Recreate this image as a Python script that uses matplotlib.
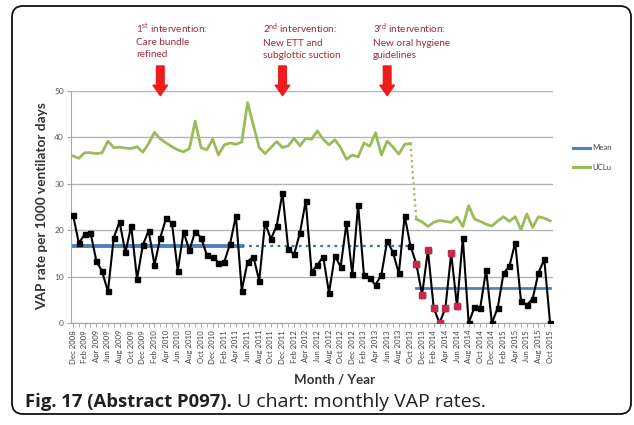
import matplotlib
matplotlib.use('Agg')
import matplotlib.pyplot as plt
from matplotlib.patches import FancyBboxPatch
from matplotlib.lines import Line2D
from matplotlib.transforms import IdentityTransform
import pandas as pd

# ---------------- data ----------------
months = pd.date_range('2008-12-01', '2015-10-01', freq='MS')
month_labels = [d.strftime('%b %Y') for d in months]

vap_rate = [23.3, 17.2, 19.1, 19.5, 13.4, 11.1, 6.8, 18.4, 21.8, 15.2, 20.9, 9.5, 16.8, 19.9, 12.5, 18.4,
            22.6, 21.5, 11.3, 19.6, 15.7, 19.7, 18.4, 14.6, 14.3, 13.0, 13.2, 17.1, 23.1, 7.0, 13.2, 14.3, 9.1,
            21.6, 18.1, 20.9, 28.0, 15.9, 14.8, 19.4, 26.3, 11.0, 12.5, 14.3, 6.5, 14.5, 12.1, 21.5, 10.5, 25.4,
            10.4, 9.6, 8.2, 10.4, 17.7, 15.2, 10.7, 23.1, 16.6, 12.8, 6.1, 15.7, 3.2, 0.0, 3.2, 15.0, 3.6,
            18.3, 0.0, 3.4, 3.3, 11.5, 0.0, 3.3, 10.7, 12.2, 17.3, 4.7, 3.9, 5.2, 10.8, 13.7, 0.0]

ucl_before = [36.0, 35.5, 36.7, 36.7, 36.5, 36.7, 39.2, 37.8, 37.9, 37.7, 37.6, 38.0, 36.8, 38.7, 41.1,
              39.7, 38.8, 38.0, 37.3, 36.9, 37.6, 43.5, 37.8, 37.3, 39.6, 36.2, 38.4, 38.8, 38.5, 39.0,
              47.5, 42.6, 37.8, 36.5, 37.8, 39.1, 37.8, 38.2, 39.8, 38.2, 39.8, 39.6, 41.4, 39.6, 38.4,
              39.5, 37.8, 35.3, 36.2, 35.8, 38.8, 38.1, 41.0, 36.2, 39.2, 37.9, 36.4, 38.5, 38.7]
ucl_after = [22.4, 21.8, 20.8, 21.7, 22.1, 21.9, 21.7, 22.8, 20.8, 25.3, 22.4, 21.9, 21.3, 20.9, 22.0,
             22.9, 21.9, 22.9, 20.1, 23.5, 20.6, 22.9, 22.6, 22.0]

mean_before = 16.5
mean_after = 7.5
mean_solid_end = 29          # index where the baseline mean turns dotted
flagged = [59, 60, 61, 62, 63, 64, 65, 66]   # highlighted (red) months

interv_idx = [15, 36, 54]
interv_text = [r'1$^{\mathrm{st}}$ intervention:' + '\nCare bundle\nrefined',
               r'2$^{\mathrm{nd}}$ intervention:' + '\nNew ETT and\nsubglottic suction',
               r'3$^{\mathrm{rd}}$ intervention:' + '\nNew oral hygiene\nguidelines']
interv_text_x = [136, 263, 373]   # pixel left edge of text

# ---------------- style ----------------
plt.rcParams['font.family'] = ['Lato', 'DejaVu Sans']
plt.rcParams['mathtext.fontset'] = 'custom'
plt.rcParams['mathtext.rm'] = 'Lato'
plt.rcParams['mathtext.it'] = 'Lato:italic'
plt.rcParams['mathtext.bf'] = 'Lato:bold'

W, H = 634, 425
fig = plt.figure(figsize=(W / 100, H / 100), dpi=100)
fig.patch.set_facecolor('white')

ax = fig.add_axes([71 / W, 1 - 323 / H, (553 - 71) / W, (323 - 91) / H])

n = len(vap_rate)
x = list(range(n))
green = '#9bbb59'
blue = '#4f81bd'

ax.set_ylim(0, 50)
ax.set_xlim(-0.35, n - 0.5)
ax.set_yticks([0, 10, 20, 30, 40, 50])
ax.yaxis.grid(True, color='#b5b5b5', lw=1.0)
ax.set_axisbelow(True)
for s in ['top', 'right']:
    ax.spines[s].set_visible(False)
ax.spines['left'].set_color('#a6a6a6')
ax.spines['bottom'].set_color('#a6a6a6')

# UCL
ax.plot(range(len(ucl_before)), ucl_before, color=green, lw=2.0, zorder=3)
ax.plot(range(len(ucl_before), n), ucl_after, color=green, lw=2.0, zorder=3)
ax.plot([len(ucl_before) - 1, len(ucl_before)], [ucl_before[-1], ucl_after[0]],
        color=green, lw=1.6, ls=(0, (1, 1.5)), zorder=3)

# means
ax.plot([0, mean_solid_end], [mean_before, mean_before], color=blue, lw=2.8, zorder=2)
ax.plot([mean_solid_end, len(ucl_before) - 1], [mean_before, mean_before], color='#3e6ea6',
        lw=1.6, ls=(0, (1.2, 2.0)), zorder=2)
ax.plot([len(ucl_before), n - 1], [mean_after, mean_after], color=blue, lw=2.0, zorder=2)

# data
ax.plot(x, vap_rate, color='black', lw=1.5, marker='s', ms=3.6, mfc='black', mec='black', zorder=4)
ax.plot([x[i] for i in flagged], [vap_rate[i] for i in flagged], ls='none', marker='s', ms=3.8,
        mfc='#c8284a', mec='#c8284a', zorder=5)

# ticks
ax.set_xticks(x[::2])
ax.set_xticklabels(month_labels[::2], rotation=90, fontsize=5.6, color='#404040')
ax.set_xticks(x, minor=True)
ax.tick_params(axis='x', which='both', length=3, color='#a6a6a6', pad=2)
ax.tick_params(axis='y', length=3, color='#a6a6a6', labelsize=6, labelcolor='#595959', pad=2)

fig.text(42 / W, 1 - 206 / H, 'VAP rate per 1000 ventilator days', fontsize=9.8, fontweight='bold',
         color='#333333', rotation=90, ha='center', va='center')
fig.text(335 / W, 1 - 380 / H, 'Month / Year', fontsize=9.6, fontweight='bold', color='#333333',
         ha='center', va='center')

# interventions
for xi, txt, tx in zip(interv_idx, interv_text, interv_text_x):
    ax.annotate('', xy=(xi, 49.0), xycoords='data',
                xytext=(xi, (323 - 66) / (323 - 91)), textcoords=('data', 'axes fraction'),
                arrowprops=dict(arrowstyle='simple,head_width=1.05,head_length=0.75,tail_width=0.55',
                                color='#ee1c1c', shrinkA=0, shrinkB=0),
                annotation_clip=False, zorder=6)
    fig.text(tx / W, 1 - 21 / H, txt, fontsize=7.2, color='#9b2d3c', ha='left', va='top',
             linespacing=1.45)

# legend (manual)
for yy, col, lab in [(148, blue, 'Mean'), (167, green, 'UCLu')]:
    fig.add_artist(Line2D([573 / W, 590 / W], [1 - yy / H, 1 - yy / H], color=col, lw=2.2,
                          transform=fig.transFigure))
    fig.text(592 / W, 1 - yy / H, lab, fontsize=5.6, color='#404040', va='center', ha='left')

# outer rounded frame
frame = FancyBboxPatch((12, 11), 619, 408, boxstyle='round,pad=0,rounding_size=11',
                       transform=IdentityTransform(), fill=False, ec='#111111', lw=1.3)
fig.add_artist(frame)

# caption
t1 = fig.text(25 / W, 1 - 402 / H, 'Fig. 17 (Abstract P097).', fontsize=13.3, fontweight='bold',
              family=['Open Sans', 'DejaVu Sans'], color='#231f20', va='center', ha='left')
fig.canvas.draw()
bb = t1.get_window_extent(renderer=fig.canvas.get_renderer())
fig.text((bb.x1 + 5) / W, 1 - 402 / H, 'U chart: monthly VAP rates.', fontsize=14,
         family=['Open Sans', 'DejaVu Sans'], color='#231f20', va='center', ha='left')

fig.savefig('out.png', dpi=100, facecolor='white')
